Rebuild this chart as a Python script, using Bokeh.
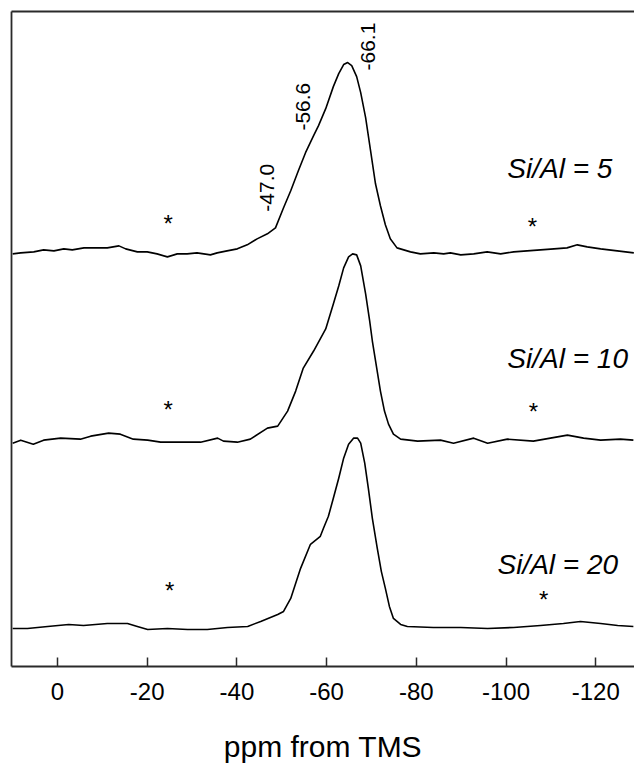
from math import pi
from bokeh.plotting import figure
from bokeh.models import Range1d, FixedTicker, LinearAxis
from bokeh.core.properties import value
from bokeh.embed import file_html
from bokeh.resources import INLINE

# ---- data: chemical shift (ppm from TMS) and stacked intensity (arb. units) ----
ppm_si5 = [10.0, 8.2, 5.3, 3.1, 0.8, -1.4, -3.3, -5.9, -8.9, -11.1, -13.7, -15.2, -17.8, -20.0,
           -22.2, -24.5, -26.7, -28.9, -31.1, -34.1, -35.6, -37.8, -40.1, -42.3, -44.5, -46.8, -48.6,
           -50.4, -52.0, -53.7, -55.3, -57.1, -58.2, -59.8, -61.5, -62.7, -63.8, -64.7, -65.6, -66.7,
           -67.6, -68.7, -69.8, -70.9, -72.0, -73.1, -74.2, -75.7, -78.7, -80.9, -83.9, -86.1, -87.6,
           -89.9, -92.8, -95.8, -98.8, -101.7, -104.7, -107.7, -110.7, -113.6, -115.9, -118.1, -121.1,
           -124.8, -128.5]
int_si5 = [412, 413, 414, 416, 415, 417, 416, 418, 418, 418, 420, 417, 414, 414,
           412, 409, 412, 412, 413, 411, 413, 415, 417, 421, 427, 432, 438,
           458, 475, 495, 513, 530, 540, 557, 579, 592, 601, 603, 600, 589,
           573, 548, 515, 482, 460, 441, 427, 418, 414, 412, 413, 412, 413,
           411, 412, 414, 412, 414, 415, 416, 417, 418, 421, 419, 417,
           415, 413]

ppm_si10 = [10.0, 8.2, 5.4, 3.1, -0.7, -5.1, -7.4, -11.4, -14.0, -16.9, -20.1, -23.0, -27.4, -31.9,
            -35.7, -37.0, -40.1, -43.0, -46.8, -49.1, -51.3, -53.1, -54.8, -57.1, -59.8, -61.5, -62.7,
            -63.8, -64.9, -65.8, -66.7, -67.6, -68.7, -69.6, -70.2, -71.1, -72.0, -72.9, -73.8, -74.9,
            -76.5, -80.3, -85.4, -88.3, -92.8, -95.9, -100.3, -106.1, -109.9, -113.7, -117.3, -121.1,
            -125.5, -128.4]
int_si10 = [223, 226, 222, 226, 228, 227, 230, 233, 232, 227, 226, 224, 224, 224,
            228, 225, 224, 227, 238, 240, 255, 275, 298, 315, 337, 362, 380,
            398, 409, 412, 411, 400, 372, 345, 325, 300, 275, 255, 242, 232,
            227, 225, 226, 223, 228, 223, 227, 225, 228, 231, 228, 226,
            227, 226]

ppm_si20 = [10.0, 6.7, 2.2, -2.5, -5.8, -11.1, -15.6, -17.8, -20.1, -24.5, -29.0, -33.4, -37.9, -42.4,
            -45.3, -49.1, -50.4, -52.0, -54.2, -56.4, -58.6, -59.3, -60.4, -61.5, -62.7, -63.8, -64.9,
            -66.0, -66.9, -67.6, -68.5, -69.3, -70.2, -71.3, -72.2, -73.1, -74.0, -74.9, -76.5, -78.0,
            -83.8, -89.9, -95.9, -101.7, -107.7, -112.8, -116.6, -121.1, -124.9, -128.4]
int_si20 = [38, 38, 40, 42, 41, 43, 43, 40, 37, 38, 37, 37, 39, 40,
            45, 52, 55, 68, 98, 122, 130, 138, 150, 168, 188, 208, 222,
            228, 228, 223, 203, 178, 148, 118, 95, 78, 60, 48, 42, 40,
            39, 39, 38, 39, 41, 43, 45, 43, 41, 40]

peak_labels = ["-47.0", "-56.6", "-66.1"]
peak_label_x = [-46.8, -54.8, -69.3]
peak_label_y = [478, 559, 619]

sample_labels = ["Si/Al = 5", "Si/Al = 10", "Si/Al = 20"]
sample_label_x = [-100.3, -100.3, -98.1]
sample_label_y = [497, 308, 102]

star_x = [-24.7, -105.9, -24.7, -106.1, -25.0, -108.4]
star_y = [448, 445, 263, 261, 82, 73]

x_ticks = [0, -20, -40, -60, -80, -100, -120]
x_tick_labels = ["0", "-20", "-40", "-60", "-80", "-100", "-120"]

FONT = "Liberation Sans"
FRAME = "#2a2a2a"

p = figure(width=634, height=765, output_backend="svg", toolbar_location=None,
           x_range=Range1d(10.26, -128.65), y_range=Range1d(0, 654),
           min_border_left=11, min_border_top=11, min_border_right=0, min_border_bottom=0,
           background_fill_color="white", border_fill_color="white")
p.outline_line_color = None
p.grid.visible = False

# bottom axis
xa = p.xaxis[0]
xa.ticker = FixedTicker(ticks=x_ticks)
xa.major_label_overrides = dict(zip(x_ticks, x_tick_labels))
xa.minor_tick_line_color = None
xa.major_tick_in = 9
xa.major_tick_out = 0
xa.major_tick_line_color = FRAME
xa.major_tick_line_width = 1.5
xa.axis_line_color = FRAME
xa.axis_line_width = 1.8
xa.major_label_text_font = FONT
xa.major_label_text_font_size = "24px"
xa.major_label_text_color = "black"
xa.major_label_standoff = 16
xa.axis_label = "ppm from TMS"
xa.axis_label_text_font = FONT
xa.axis_label_text_font_size = "30px"
xa.axis_label_text_font_style = "normal"
xa.axis_label_text_color = "black"
xa.axis_label_standoff = 27

# left axis: plain line
ya = p.yaxis[0]
ya.ticker = FixedTicker(ticks=[])
ya.major_tick_in = 0
ya.major_tick_out = 0
ya.minor_tick_line_color = None
ya.major_label_standoff = 0
ya.major_label_text_font_size = "0px"
ya.axis_line_color = FRAME
ya.axis_line_width = 1.8

# top border as a bare axis
top = LinearAxis(ticker=FixedTicker(ticks=[]), major_tick_in=0, major_tick_out=0,
                 minor_tick_line_color=None, major_label_standoff=0,
                 major_label_text_font_size="0px", axis_line_color=FRAME, axis_line_width=1.8)
p.add_layout(top, "above")

for xs, ys in ((ppm_si5, int_si5), (ppm_si10, int_si10), (ppm_si20, int_si20)):
    p.line(xs, ys, line_color="black", line_width=1.6, line_join="round")

p.text(x=peak_label_x, y=peak_label_y, text=peak_labels, angle=pi / 2,
       text_font=value(FONT), text_font_size="21px", text_color="black",
       text_align="center", text_baseline="middle")

p.text(x=sample_label_x, y=sample_label_y, text=sample_labels,
       text_font=value(FONT), text_font_size="28px", text_font_style="italic",
       text_color="black", text_align="left", text_baseline="middle")

p.text(x=star_x, y=star_y, text=["*"] * len(star_x), y_offset=6,
       text_font=value(FONT), text_font_size="24px", text_color="black",
       text_align="center", text_baseline="middle")

open("out.html", "w").write(file_html(p, INLINE))
